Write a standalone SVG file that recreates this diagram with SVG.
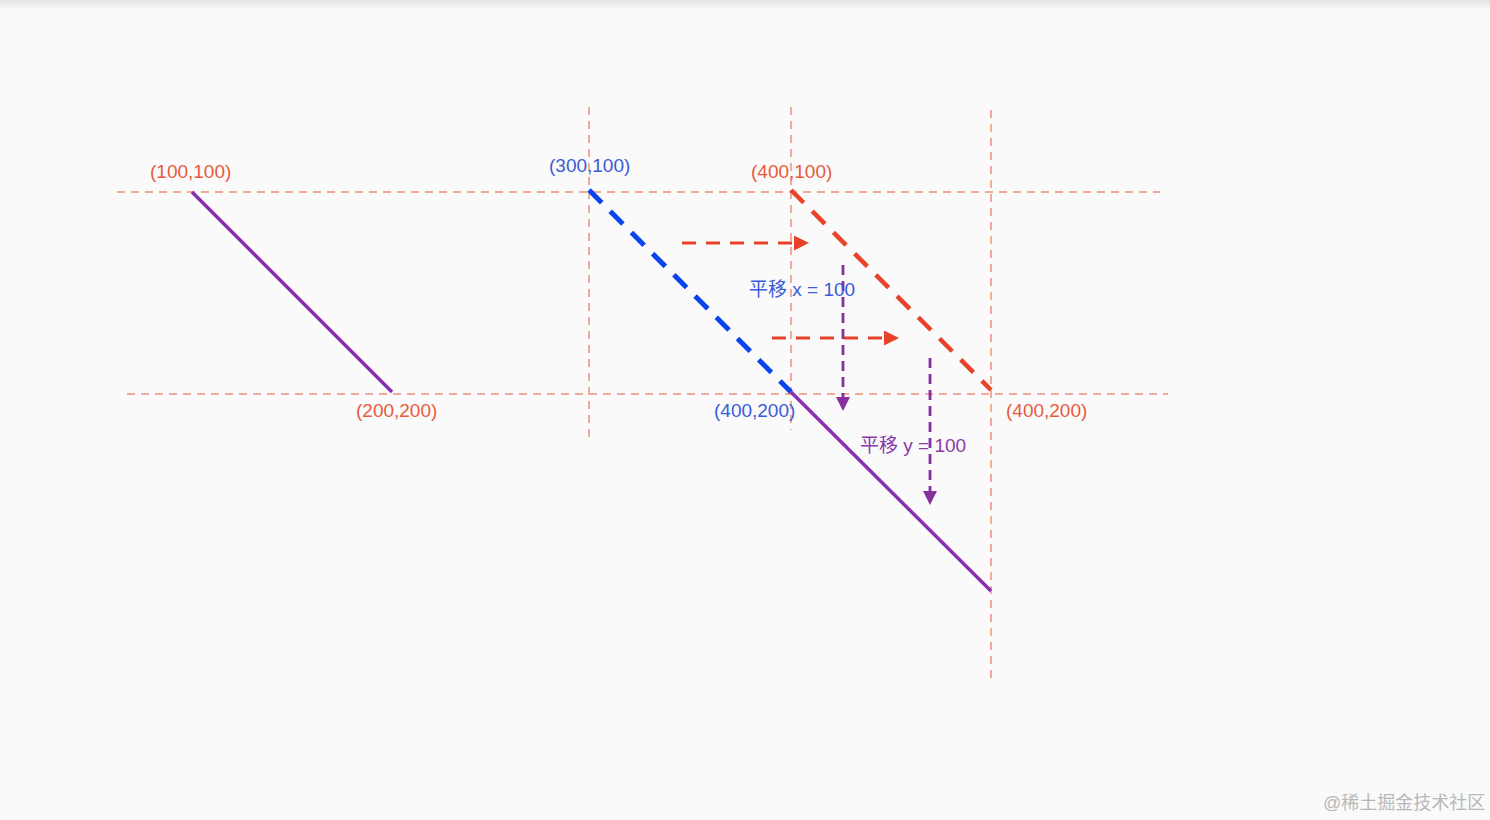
<svg xmlns="http://www.w3.org/2000/svg" width="1490" height="820" viewBox="0 0 1490 820">
<defs>
<linearGradient id="sh" x1="0" y1="0" x2="0" y2="1">
<stop offset="0" stop-color="#e2e2e2"/>
<stop offset="1" stop-color="#fafafa"/>
</linearGradient>
<marker id="ar" viewBox="0 0 10 10" refX="0" refY="5" markerWidth="16" markerHeight="15" markerUnits="userSpaceOnUse" orient="auto"><path d="M0,0 L10,5 L0,10 Z" fill="#e8432a"/></marker>
<marker id="ap" viewBox="0 0 10 10" refX="0" refY="5" markerWidth="14" markerHeight="15" markerUnits="userSpaceOnUse" orient="auto"><path d="M0,0 L10,5 L0,10 Z" fill="#86309e"/></marker>
<style>
.g{stroke:#f0907a;stroke-width:1.5;stroke-dasharray:8 6;fill:none}
.pl{stroke:#8a2fb0;stroke-width:3.5;fill:none}
.bd{stroke:#0a44ee;stroke-width:5;stroke-dasharray:18 12;fill:none}
.rd{stroke:#e8432a;stroke-width:4.5;stroke-dasharray:18 12;fill:none}
.ra{stroke:#e8432a;stroke-width:3;stroke-dasharray:14 10;fill:none}
.pa{stroke:#86309e;stroke-width:2.8;stroke-dasharray:10 6;fill:none}
text{font-family:"Liberation Sans","Noto Sans CJK SC",sans-serif;font-size:19px}
.tr{fill:#e85a3c}.tb{fill:#3b5bd8}.tp{fill:#8a3aa8}
</style>
</defs>
<rect width="1490" height="820" fill="#fafafa"/>
<rect width="1490" height="10" fill="url(#sh)"/>
<g id="guides">
<line class="g" x1="117" y1="192" x2="1160" y2="192"/>
<line class="g" x1="127" y1="394" x2="1168" y2="394"/>
<line class="g" x1="589" y1="107" x2="589" y2="443"/>
<line class="g" x1="791" y1="107" x2="791" y2="430"/>
<line class="g" x1="991" y1="110" x2="991" y2="683"/>
</g>
<g id="connectors">
<line class="pl" x1="192" y1="192" x2="392" y2="392"/>
<line class="bd" x1="589" y1="190" x2="791" y2="392"/>
<line class="rd" x1="791" y1="190" x2="991" y2="390"/>
<line class="pl" x1="791" y1="392" x2="991" y2="591"/>
<line class="ra" x1="682" y1="243" x2="794" y2="243" marker-end="url(#ar)"/>
<line class="ra" x1="772" y1="338" x2="884" y2="338" marker-end="url(#ar)"/>
<line class="pa" x1="843" y1="265" x2="843" y2="397" marker-end="url(#ap)"/>
<line class="pa" x1="930" y1="358" x2="930" y2="491" marker-end="url(#ap)"/>
</g>
<g id="labels">
<text class="tr" x="150" y="178">(100,100)</text>
<text class="tr" x="356" y="417">(200,200)</text>
<text class="tb" x="549" y="172">(300,100)</text>
<text class="tr" x="751" y="178">(400,100)</text>
<text class="tb" x="714" y="417">(400,200)</text>
<text class="tr" x="1006" y="417">(400,200)</text>
<text class="tb" x="749" y="296">平移 x = 100</text>
<text class="tp" x="860" y="452">平移 y = 100</text>
</g>
<text x="1323" y="809" style="font-size:18px;fill:#b8b8b8">@稀土掘金技术社区</text>
</svg>
